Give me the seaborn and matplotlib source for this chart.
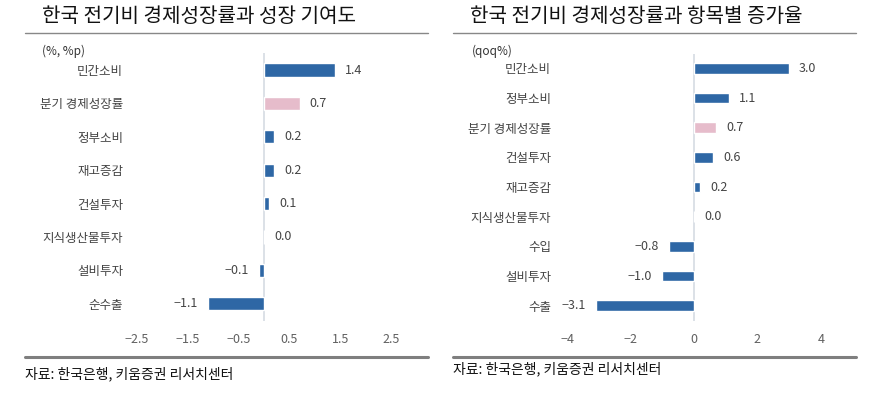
import matplotlib
matplotlib.use("Agg")
import matplotlib.pyplot as plt
import seaborn as sns
import pandas as pd
from matplotlib.lines import Line2D

sns.set_style("white")
plt.rcParams['font.family'] = ['Noto Sans CJK KR', 'DejaVu Sans']
plt.rcParams['axes.unicode_minus'] = True

# ---- data ----
left_title = "한국 전기비 경제성장률과 성장 기여도"
left_unit = "(%, %p)"
left_cats = ["민간소비", "분기 경제성장률", "정부소비", "재고증감", "건설투자", "지식생산물투자", "설비투자", "순수출"]
left_vals = [1.4, 0.7, 0.2, 0.2, 0.1, 0.0, -0.1, -1.1]
left_ticks = [-2.5, -1.5, -0.5, 0.5, 1.5, 2.5]

right_title = "한국 전기비 경제성장률과 항목별 증가율"
right_unit = "(qoq%)"
right_cats = ["민간소비", "정부소비", "분기 경제성장률", "건설투자", "재고증감", "지식생산물투자", "수입", "설비투자", "수출"]
right_vals = [3.0, 1.1, 0.7, 0.6, 0.2, 0.0, -0.8, -1.0, -3.1]
right_ticks = [-4, -2, 0, 2, 4]

source = "자료: 한국은행, 키움증권 리서치센터"
highlight = "분기 경제성장률"

BLUE = "#2e67a5"
PINK = "#e6bccb"
W, H = 874, 399

fig = plt.figure(figsize=(W / 100, H / 100), dpi=100)


def px_axes(x0, y0, x1, y1):
    return fig.add_axes([x0 / W, 1 - y1 / H, (x1 - x0) / W, (y1 - y0) / H])


def fmt(v):
    s = f"{abs(v):.1f}"
    return ("\u2212" + s) if v < 0 else s


def panel(ax, cats, vals, ticks, xlim, bar_w, ppu, tick_fmt):
    df = pd.DataFrame({"cat": cats, "val": vals})
    pal = {c: (PINK if c == highlight else BLUE) for c in cats}
    sns.barplot(data=df, x="val", y="cat", hue="cat", palette=pal, orient="h",
                width=bar_w, legend=False, ax=ax, saturation=1)
    ax.set_xlim(*xlim)
    ax.set_ylim(len(cats) - 0.5, -0.5)
    ax.axvline(0, color="#d5dbe3", lw=1.2, zorder=0)
    for s in ax.spines.values():
        s.set_visible(False)
    ax.set_xlabel("")
    ax.set_ylabel("")
    ax.set_xticks(ticks)
    ax.set_xticklabels([tick_fmt(t) for t in ticks])
    ax.tick_params(axis="both", length=0, labelsize=9, colors="#606060")
    ax.tick_params(axis="y", colors="#444444", pad=5)
    ax.tick_params(axis="x", pad=9)
    off = 10 / ppu
    for i, v in enumerate(vals):
        if v >= 0:
            ax.text(v + off, i, fmt(v), va="center", ha="left", fontsize=9, color="#444444")
        else:
            ax.text(v - off, i, fmt(v), va="center", ha="right", fontsize=9, color="#444444")


# left panel: zero at x=264, 50.8 px/unit, axes px 130..400
ppu_l = 50.8
axl = px_axes(130, 53.3, 400, 320.5)
panel(axl, left_cats, left_vals, left_ticks,
      ((130 - 264) / ppu_l, (400 - 264) / ppu_l), 0.4, ppu_l, fmt)

# right panel: zero at x=694, 31.7 px/unit, axes px 558..850
ppu_r = 31.7
axr = px_axes(558, 53.5, 850, 320.5)
panel(axr, right_cats, right_vals, right_ticks,
      ((558 - 694) / ppu_r, (850 - 694) / ppu_r), 0.36, ppu_r,
      lambda t: ("\u2212" + str(abs(t))) if t < 0 else str(t))


def fx(x):
    return x / W


def fy(y):
    return 1 - y / H


fig.text(fx(42), fy(17), left_title, fontsize=14.5, color="#111111", va="center", ha="left")
fig.text(fx(470), fy(17), right_title, fontsize=14.5, color="#111111", va="center", ha="left")
fig.text(fx(42), fy(51), left_unit, fontsize=8.5, color="#333333", va="center", ha="left")
fig.text(fx(472), fy(51), right_unit, fontsize=8.5, color="#333333", va="center", ha="left")

for x0, x1 in [(25, 428), (453, 856)]:
    fig.add_artist(Line2D([fx(x0), fx(x1)], [fy(33), fy(33)], color="#888888", lw=1.0))
    fig.add_artist(Line2D([fx(x0), fx(x1)], [fy(356.5), fy(356.5)], color="#7f7f7f", lw=2.2))

fig.text(fx(25), fy(374), source, fontsize=10, color="#111111", va="center", ha="left")
fig.text(fx(453), fy(369), source, fontsize=10, color="#111111", va="center", ha="left")

fig.savefig("out.png", dpi=100)
